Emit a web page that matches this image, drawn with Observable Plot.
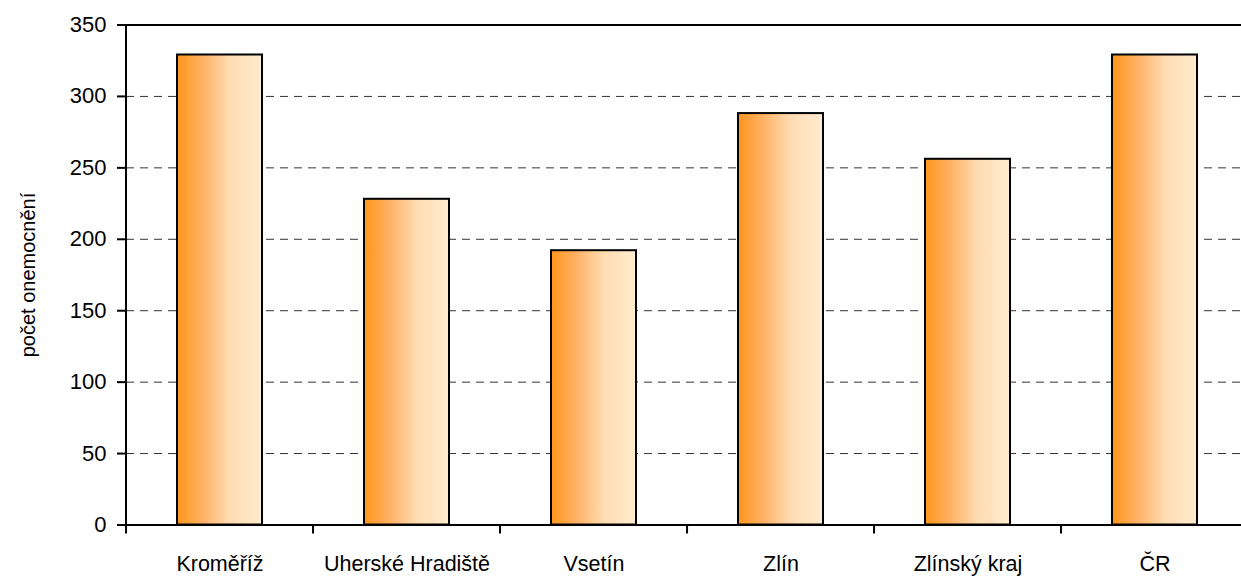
<!DOCTYPE html>
<html>
<head>
<meta charset="utf-8">
<script src="https://cdn.jsdelivr.net/npm/d3@7"></script>
<script src="https://cdn.jsdelivr.net/npm/@observablehq/plot@0.6"></script>
<style>
  html, body { margin: 0; padding: 0; background: #fff; }
  #chart svg { display: block; }
</style>
</head>
<body>
<div id="chart"></div>
<script>
const categories = ["Kroměříž", "Uherské Hradiště", "Vsetín", "Zlín", "Zlínský kraj", "ČR"];
const values = [329, 228, 192, 288, 256, 329];
const yTicks = [0, 50, 100, 150, 200, 250, 300, 350];
const gridValues = [50, 100, 150, 200, 250, 300];
const yLabel = "počet onemocnění";

const data = categories.map((name, i) => ({name, value: values[i]}));

const PAD_INNER = 0.545;
const PAD_OUTER = PAD_INNER / 2;

const NS = "http://www.w3.org/2000/svg";
function gradientDefs() {
  const defs = document.createElementNS(NS, "defs");
  const lg = document.createElementNS(NS, "linearGradient");
  lg.setAttribute("id", "barGrad");
  lg.setAttribute("x1", "0"); lg.setAttribute("x2", "1");
  lg.setAttribute("y1", "0"); lg.setAttribute("y2", "0");
  [["0", "#ff951c"], ["0.3", "#ffb264"], ["0.62", "#ffdcb2"], ["1", "#ffeccf"]].forEach(([o, c]) => {
    const s = document.createElementNS(NS, "stop");
    s.setAttribute("offset", o);
    s.setAttribute("stop-color", c);
    lg.appendChild(s);
  });
  defs.appendChild(lg);
  return defs;
}

// x ticks at band boundaries, computed from the band scale
function bandBoundaryTicks(index, scales, values, dims) {
  const g = document.createElementNS(NS, "g");
  const x = scales.x;
  const step = x(categories[1]) - x(categories[0]);
  const bw = step * (1 - PAD_INNER);
  const y0 = scales.y(0);
  const bounds = categories.map(c => x(c) - (step - bw) / 2);
  bounds.push(x(categories[categories.length - 1]) + bw + (step - bw) / 2);
  for (const bx of bounds) {
    const l = document.createElementNS(NS, "line");
    l.setAttribute("x1", bx); l.setAttribute("x2", bx);
    l.setAttribute("y1", y0); l.setAttribute("y2", y0 + 9);
    l.setAttribute("stroke", "black");
    l.setAttribute("stroke-width", 2);
    g.appendChild(l);
  }
  // left axis line
  const la = document.createElementNS(NS, "line");
  la.setAttribute("x1", dims.marginLeft); la.setAttribute("x2", dims.marginLeft);
  la.setAttribute("y1", scales.y(350)); la.setAttribute("y2", y0);
  la.setAttribute("stroke", "black");
  la.setAttribute("stroke-width", 2);
  g.appendChild(la);
  return g;
}

const chart = Plot.plot({
  width: 1241,
  height: 576,
  marginLeft: 126,
  marginRight: 0,
  marginTop: 24.5,
  marginBottom: 51.5,
  style: {fontFamily: "'Liberation Sans', Arial, sans-serif", fontSize: "20px", color: "black", background: "white"},
  x: {domain: categories, range: [126, 1248], paddingInner: PAD_INNER, paddingOuter: PAD_OUTER, align: 0.5},
  y: {domain: [0, 350]},
  marks: [
    gradientDefs,
    Plot.ruleY(gridValues, {stroke: "#333", strokeWidth: 1, strokeDasharray: "8,6"}),
    Plot.barY(data, {x: "name", y: "value", fill: "url(#barGrad)", stroke: "black", strokeWidth: 2}),
    Plot.ruleY([0, 350], {stroke: "black", strokeWidth: 2}),
    bandBoundaryTicks,
    Plot.axisY({ticks: yTicks, tickSize: 9, tickPadding: 11, tickFormat: d => String(d), strokeWidth: 2,
      label: null, fontSize: 22}),
    Plot.axisY({ticks: [], tickSize: 0, label: yLabel, labelAnchor: "center", labelArrow: "none", labelOffset: 106, fontSize: 20}),
    Plot.axisX({tickSize: 0, tickPadding: 31, label: null, fontSize: 21.5})
  ]
});
document.getElementById("chart").appendChild(chart);
</script>
</body>
</html>
